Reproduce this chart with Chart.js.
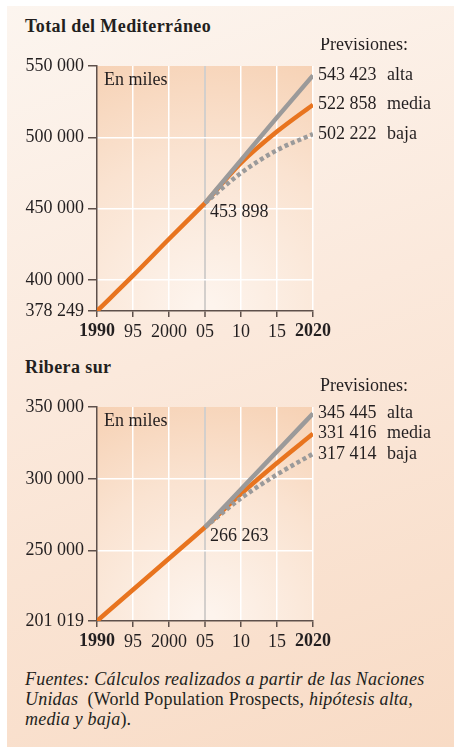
<!DOCTYPE html>
<html>
<head>
<meta charset="utf-8">
<script src="https://cdn.jsdelivr.net/npm/chart.js@4/dist/chart.umd.min.js"></script>
<style>
  body { margin: 0; width: 454px; height: 747px; background: #fff; position: relative; overflow: hidden;
         font-family: "Liberation Serif", serif; color: #231f20; }
  #panel { position: absolute; left: 7px; top: 6px; right: 0; bottom: 0;
           background: linear-gradient(160deg, #fcf5ef 0%, #fbe9dc 45%, #f8dbc5 100%); }
  .title { position: absolute; left: 25px; font-weight: bold; font-size: 18px; line-height: 20px; letter-spacing: 0.4px; }
  canvas { position: absolute; left: 0; }
  #src { position: absolute; left: 25px; top: 669px; font-size: 18px; line-height: 20px; font-style: italic; letter-spacing: 0.2px; }
  #src span { font-style: normal; }
</style>
</head>
<body>
<div id="panel"></div>
<div class="title" style="top:16px">Total del Mediterráneo</div>
<canvas id="c1" width="454" height="310" style="top:38px"></canvas>
<div class="title" style="top:357px">Ribera sur</div>
<canvas id="c2" width="454" height="280" style="top:378px"></canvas>
<div id="src">Fuentes: Cálculos realizados a partir de las Naciones<br>Unidas&nbsp; <span>(World Population Prospects, </span>hipótesis alta,<br>media y baja<span>).</span></div>

<script>
// años y etiquetas del eje x
const years = [1990, 1995, 2000, 2005, 2010, 2015, 2020];
const xTickLabels = ['1990', '95', '2000', '05', '10', '15', '2020'];
const scenarioNames = ['alta', 'media', 'baja'];

// Total del Mediterráneo (miles)
const medHist  = [378249, 403000, 428700, 453898, null, null, null];
const medAlta  = [null, null, null, 453898, 484000, 514000, 543423];
const medMedia = [null, null, null, 453898, 482000, 504000, 522858];
const medBaja  = [null, null, null, 453898, 475000, 491000, 502222];
const medYTicks = [378249, 400000, 450000, 500000, 550000];

// Ribera sur (miles)
const surHist  = [201019, 222800, 244500, 266263, null, null, null];
const surAlta  = [null, null, null, 266263, 292700, 319100, 345445];
const surMedia = [null, null, null, 266263, 289500, 311000, 331416];
const surBaja  = [null, null, null, 266263, 286500, 303000, 317414];
const surYTicks = [201019, 250000, 300000, 350000];

const ORANGE = '#e8741f';
const GREY = '#9b9a9a';
const AXIS = '#5e504b';
const FONT = '"Liberation Serif", serif';

function fmt(n) {
    return String(n).replace(/\B(?=(\d{3})+(?!\d))/g, ' ');
}

function pts(arr) {
    return years.map((x, i) => ({ x, y: arr[i] })).filter(p => p.y !== null);
}

const areaBg = {
    id: 'areaBg',
    beforeDraw(chart) {
        const { ctx, chartArea: a } = chart;
        const g = ctx.createRadialGradient(a.left + a.width * 0.5, a.bottom, 10, a.left + a.width * 0.5, a.bottom, a.height * 1.15);
        g.addColorStop(0, '#fdf4ed');
        g.addColorStop(0.55, '#fae3d1');
        g.addColorStop(1, '#f6d0b2');
        ctx.save();
        ctx.fillStyle = g;
        ctx.fillRect(a.left, a.top, a.width, a.height);
        ctx.restore();
    }
};

const notes = {
    id: 'notes',
    afterDraw(chart, args, opts) {
        const { ctx, chartArea: a, scales } = chart;
        ctx.save();
        ctx.fillStyle = '#231f20';
        ctx.font = '18px ' + FONT;
        ctx.textBaseline = 'middle';
        ctx.textAlign = 'left';
        ctx.fillText('En miles', a.left + 7, a.top + 14);
        ctx.fillText('Previsiones:', a.right + 7, a.top - 21);
        // valor pivote
        const px = scales.x.getPixelForValue(opts.pivot[0]);
        const py = scales.y.getPixelForValue(opts.pivot[1]);
        ctx.fillText(fmt(opts.pivot[1]), px + 5, py + 9);
        // valores finales
        opts.ends.forEach((v, i) => {
            const y = scales.y.getPixelForValue(v);
            ctx.fillText(fmt(v), a.right + 5, y);
            ctx.fillText(scenarioNames[i], a.right + 74, y);
        });
        ctx.restore();
    }
};

function makeChart(id, hist, alta, media, baja, yTicks, padTop) {
    const line = (data, color, dash) => ({
        data: pts(data),
        borderColor: color,
        borderWidth: 4.5,
        borderDash: dash || [],
        borderCapStyle: 'butt',
        pointRadius: 0,
        cubicInterpolationMode: 'monotone',
        fill: false
    });
    return new Chart(document.getElementById(id), {
        type: 'line',
        data: {
            datasets: [
                line(alta, GREY),
                line(baja, GREY, [4, 3]),
                line(media, ORANGE),
                line(hist, ORANGE)
            ]
        },
        options: {
            responsive: false,
            animation: false,
            layout: { padding: { top: padTop, right: 141, left: 0, bottom: 0 } },
            plugins: {
                legend: { display: false },
                tooltip: { enabled: false },
                notes: { pivot: [2005, hist[3]], ends: [alta[6], media[6], baja[6]] }
            },
            scales: {
                x: {
                    type: 'linear',
                    min: years[0],
                    max: years[years.length - 1],
                    afterBuildTicks: s => { s.ticks = years.map(v => ({ value: v })); },
                    afterFit: s => { s.height = 37; },
                    ticks: {
                        autoSkip: false,
                        maxRotation: 0,
                        padding: 4,
                        color: '#231f20',
                        font: c => ({ family: FONT, size: 18, weight: (c.index === 0 || c.index === years.length - 1) ? 'bold' : 'normal' }),
                        callback: v => xTickLabels[years.indexOf(v)]
                    },
                    grid: {
                        color: c => c.tick && c.tick.value === 2005 ? '#d3cfcc' : (c.tick && c.tick.value === 1990 ? 'transparent' : '#ffffff'),
                        lineWidth: c => c.tick && c.tick.value === 2005 ? 2 : 1.5,
                        tickLength: 6,
                        tickColor: AXIS,
                        tickWidth: 1.5
                    },
                    border: { color: AXIS, width: 1.5 }
                },
                y: {
                    type: 'linear',
                    min: yTicks[0],
                    max: yTicks[yTicks.length - 1],
                    afterBuildTicks: s => { s.ticks = yTicks.map(v => ({ value: v })); },
                    afterFit: s => { s.width = 97; },
                    ticks: {
                        padding: 4,
                        color: '#231f20',
                        font: { family: FONT, size: 18 },
                        callback: v => fmt(v)
                    },
                    grid: {
                        color: c => (c.index === 0 || c.index === yTicks.length - 1) ? 'transparent' : '#ffffff',
                        lineWidth: 1.5,
                        tickLength: 9,
                        tickColor: AXIS,
                        tickWidth: 1.5
                    },
                    border: { color: AXIS, width: 1.5 }
                }
            }
        },
        plugins: [areaBg, notes]
    });
}

makeChart('c1', medHist, medAlta, medMedia, medBaja, medYTicks, 28);
makeChart('c2', surHist, surAlta, surMedia, surBaja, surYTicks, 29);
</script>
</body>
</html>
